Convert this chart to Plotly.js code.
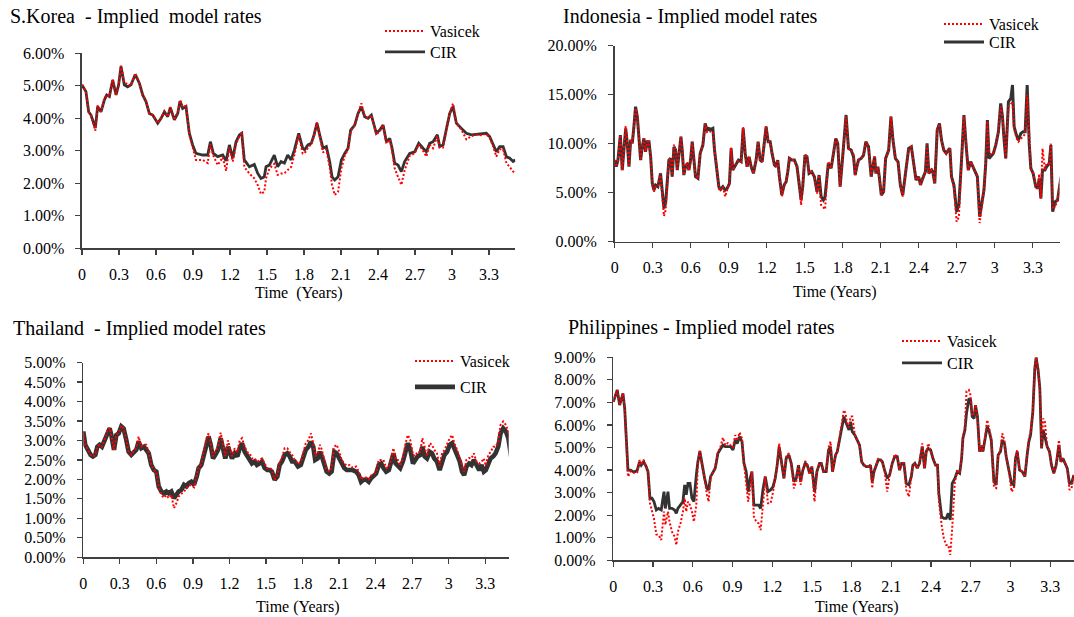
<!DOCTYPE html>
<html>
<head>
<meta charset="utf-8">
<script src="https://cdn.plot.ly/plotly-3.0.1.min.js"></script>
<style>html,body{margin:0;padding:0;background:#fff;}#chart{width:1074px;height:617px;}</style>
</head>
<body>
<div id="chart"></div>
<script>
// ---------- tick labels ----------
const xTickVals = [0, 0.3, 0.6, 0.9, 1.2, 1.5, 1.8, 2.1, 2.4, 2.7, 3, 3.3];
const xTickText = ['0', '0.3', '0.6', '0.9', '1.2', '1.5', '1.8', '2.1', '2.4', '2.7', '3', '3.3'];

// ---------- S.Korea (rates in %) ----------
const krTime = [0,0.032,0.054,0.073,0.108,0.127,0.154,0.181,0.2,0.222,
0.249,0.276,0.297,0.316,0.343,0.37,0.397,0.432,0.465,0.492,
0.519,0.546,0.573,0.614,0.641,0.668,0.695,0.716,0.749,0.776,
0.795,0.816,0.843,0.87,0.897,0.924,0.978,1.019,1.041,1.065,
1.1,1.141,1.168,1.195,1.222,1.249,1.276,1.295,1.316,1.357,
1.397,1.424,1.451,1.478,1.492,1.519,1.559,1.586,1.614,1.641,
1.668,1.695,1.722,1.757,1.789,1.805,1.832,1.859,1.881,1.905,
1.927,1.954,1.981,2.008,2.027,2.049,2.076,2.103,2.13,2.157,
2.178,2.211,2.238,2.265,2.292,2.319,2.346,2.386,2.414,2.441,
2.468,2.495,2.514,2.535,2.562,2.589,2.616,2.657,2.697,2.73,
2.765,2.792,2.819,2.846,2.881,2.9,2.927,2.954,2.981,3.008,
3.035,3.076,3.116,3.157,3.197,3.238,3.278,3.305,3.332,3.359,
3.386,3.414,3.441,3.468,3.495,3.514];
const krCIR = [5.03,4.82,4.2,4.1,3.7,4.36,4.2,4.56,4.72,4.67,
5.18,4.72,5.03,5.6,5.03,4.97,5.03,5.35,5.08,4.72,
4.51,4.15,4.1,3.85,4.0,4.2,4.05,4.33,3.95,4.15,
4.53,4.3,4.36,3.54,3.18,2.92,2.87,2.87,3.28,2.92,
2.82,2.87,2.69,3.18,2.77,3.28,3.49,3.54,2.72,2.51,
2.58,2.31,2.15,2.2,2.51,2.56,2.87,2.51,2.67,2.62,
2.87,2.72,3.03,3.54,3.08,3.03,3.18,3.23,3.49,3.85,
3.49,3.08,3.13,2.67,2.2,2.1,2.2,2.72,2.92,3.08,
3.64,3.79,4.15,4.36,4.05,4.0,4.1,3.54,3.64,3.79,
3.28,3.38,3.08,2.62,2.56,2.36,2.67,2.92,2.97,3.23,
3.08,2.97,3.23,3.28,3.49,3.13,3.18,3.64,4.15,4.36,
3.85,3.69,3.54,3.49,3.51,3.51,3.54,3.44,3.23,2.97,
3.13,3.13,2.82,2.77,2.67,2.72];
const krVasicek = [5.03,4.82,4.2,4.1,3.62,4.4,4.2,4.6,4.72,4.67,
5.2,4.72,5.0,5.62,5.1,5.05,5.0,5.38,5.08,4.72,
4.55,4.15,4.1,3.85,4.0,4.22,4.05,4.35,3.95,4.2,
4.55,4.35,4.38,3.5,3.1,2.72,2.72,2.62,3.2,2.85,
2.56,2.8,2.38,3.1,2.67,3.2,3.45,3.58,2.5,2.3,
2.15,1.95,1.67,1.74,2.15,2.45,2.6,2.26,2.3,2.31,
2.41,2.5,2.87,3.5,2.92,2.92,3.1,3.2,3.45,3.88,
3.45,2.95,3.05,2.5,1.95,1.64,1.74,2.46,2.85,3.05,
3.6,3.79,4.15,4.46,4.05,4.0,4.1,3.5,3.6,3.8,
3.22,3.35,3.0,2.46,2.2,1.95,2.4,2.85,2.92,3.2,
3.0,2.82,3.2,3.08,3.45,3.1,3.1,3.64,4.15,4.46,
3.85,3.65,3.35,3.45,3.5,3.48,3.52,3.4,3.15,2.82,
3.05,3.05,2.62,2.5,2.36,2.31];

// ---------- Indonesia ----------
const idTime = [0,0.013,0.026,0.045,0.06,0.074,0.087,0.1,0.113,0.126,
0.139,0.152,0.165,0.179,0.192,0.205,0.218,0.231,0.244,0.257,
0.271,0.284,0.297,0.31,0.323,0.341,0.362,0.373,0.389,0.402,
0.415,0.428,0.441,0.454,0.468,0.481,0.494,0.507,0.523,0.533,
0.546,0.559,0.573,0.586,0.599,0.612,0.625,0.638,0.657,0.675,
0.696,0.714,0.73,0.743,0.762,0.775,0.788,0.806,0.822,0.835,
0.854,0.872,0.888,0.906,0.919,0.932,0.946,0.964,0.977,0.998,
1.014,1.03,1.045,1.061,1.077,1.095,1.116,1.132,1.148,1.164,
1.182,1.195,1.211,1.227,1.242,1.261,1.274,1.287,1.3,1.319,
1.337,1.353,1.366,1.379,1.397,1.418,1.439,1.458,1.471,1.484,
1.502,1.518,1.534,1.555,1.576,1.597,1.613,1.629,1.647,1.66,
1.686,1.708,1.726,1.745,1.76,1.779,1.797,1.813,1.826,1.845,
1.866,1.885,1.898,1.911,1.924,1.945,1.964,1.982,2.003,2.024,
2.038,2.051,2.061,2.077,2.088,2.104,2.122,2.138,2.162,2.18,
2.196,2.215,2.236,2.254,2.273,2.289,2.302,2.32,2.341,2.36,
2.378,2.399,2.413,2.431,2.452,2.465,2.479,2.5,2.51,2.526,
2.545,2.563,2.579,2.597,2.616,2.632,2.645,2.658,2.677,2.698,
2.716,2.737,2.756,2.774,2.79,2.809,2.827,2.843,2.862,2.88,
2.896,2.914,2.928,2.941,2.954,2.972,2.988,3.007,3.028,3.046,
3.06,3.073,3.086,3.107,3.126,3.139,3.152,3.17,3.186,3.205,
3.223,3.239,3.255,3.271,3.284,3.302,3.323,3.339,3.35,3.363,
3.376,3.395,3.408,3.429,3.442,3.456,3.477,3.495,3.508,3.522];
const idCIR = [8.33,7.65,8.33,10.88,7.31,9.35,11.56,10.03,7.65,10.37,
10.03,11.73,13.78,12.76,10.03,8.33,9.69,10.54,9.18,10.2,
10.2,8.67,5.95,5.27,5.78,5.61,6.97,5.27,3.4,3.91,
6.29,8.33,8.5,6.63,9.69,9.35,7.31,9.01,10.71,9.35,
6.8,7.65,7.99,7.31,8.33,10.2,8.67,6.63,6.46,9.01,
9.86,12.07,11.39,11.56,11.46,11.56,9.35,7.65,5.61,5.34,
5.61,5.27,5.44,5.95,9.52,7.31,7.65,8.16,8.33,8.16,
11.56,9.01,7.65,8.67,7.65,6.97,8.33,10.2,8.33,8.16,
10.37,11.73,10.2,10.2,9.01,7.82,7.65,8.33,6.63,4.76,
5.78,6.12,7.14,8.5,8.33,8.33,7.65,5.95,4.25,5.61,
8.84,8.67,6.97,7.14,6.63,5.1,6.8,4.59,4.25,4.59,
7.99,7.48,9.01,10.54,10.03,5.61,8.33,10.71,12.93,9.52,
9.35,8.67,6.8,7.65,8.33,8.5,8.84,10.2,9.69,6.63,
7.82,8.67,6.97,7.65,6.63,4.76,5.1,8.5,9.35,12.76,
10.37,8.5,8.16,5.78,4.76,6.29,7.82,9.52,9.69,7.99,
6.29,6.63,5.78,6.46,7.14,10.03,6.97,7.31,7.14,5.95,
11.39,12.07,10.37,9.35,9.01,9.35,9.52,6.63,5.78,3.06,
3.74,8.33,12.93,9.69,7.31,8.16,7.65,7.14,6.63,2.55,
3.91,5.27,7.99,12.41,8.5,8.84,9.01,9.86,11.22,14.12,
12.76,10.37,8.5,14.29,14.63,15.99,11.73,10.88,10.37,11.05,
11.22,11.22,15.99,10.03,7.48,6.97,5.61,5.44,6.46,4.42,
7.31,7.31,7.65,7.99,9.86,3.06,4.08,4.25,5.61,6.63];
const idVasicek = [8.33,7.65,8.33,10.88,7.31,9.35,11.8,10.03,7.65,10.5,
10.03,11.73,13.6,12.76,10.03,8.33,9.69,10.54,9.18,10.2,
10.2,8.67,5.95,5.1,5.6,5.61,6.97,5.27,2.62,3.2,
6.29,8.33,8.5,6.63,9.9,9.35,7.31,9.01,10.71,9.35,
6.8,7.65,8.1,7.31,8.33,10.2,8.67,6.63,6.46,9.01,
9.86,12.0,11.2,11.3,11.2,11.2,9.35,7.65,5.4,5.2,
5.61,4.6,5.3,5.95,9.6,7.31,7.65,8.16,8.33,8.16,
11.7,9.01,7.65,8.67,7.65,6.97,8.33,10.2,8.33,8.16,
10.37,11.8,10.2,10.2,9.01,7.82,7.65,8.33,6.63,4.6,
5.78,6.12,7.14,8.6,8.33,8.33,7.65,5.95,3.74,5.61,
8.9,8.67,6.97,7.14,6.63,4.9,6.8,3.74,3.5,3.3,
8.2,7.48,9.01,10.54,10.03,5.61,8.33,10.71,12.8,9.52,
9.35,8.9,6.8,7.65,8.33,8.5,8.84,10.2,9.69,6.63,
7.82,8.8,6.97,7.65,6.63,4.76,5.1,8.5,9.35,12.76,
10.37,8.5,8.16,5.78,4.6,6.29,7.82,9.52,9.69,7.99,
6.29,6.63,5.78,6.46,7.14,9.9,6.97,7.5,7.14,5.95,
11.6,12.0,10.37,9.35,9.01,9.35,9.52,6.63,5.5,2.04,
2.5,8.33,12.8,9.9,7.31,8.16,7.65,7.14,6.63,1.9,
3.5,5.27,7.99,12.3,9.1,8.84,9.01,9.86,11.22,13.8,
12.76,10.37,8.5,13.8,14.0,14.3,11.5,10.6,10.2,10.5,
10.8,11.0,15.0,9.9,7.48,6.97,5.61,5.44,6.9,4.4,
9.5,7.31,8.0,7.99,10.0,3.3,3.6,4.25,5.61,6.63];

// ---------- Thailand ----------
const thTime = [0,0.016,0.038,0.06,0.079,0.099,0.115,0.134,0.153,0.175,
0.197,0.216,0.23,0.252,0.271,0.29,0.312,0.331,0.353,0.372,
0.394,0.416,0.435,0.454,0.476,0.498,0.517,0.537,0.558,0.58,
0.6,0.619,0.641,0.662,0.682,0.701,0.723,0.745,0.764,0.783,
0.805,0.827,0.846,0.865,0.887,0.909,0.931,0.947,0.969,0.988,
1.01,1.029,1.046,1.065,1.084,1.106,1.128,1.147,1.166,1.188,
1.207,1.221,1.243,1.265,1.284,1.303,1.325,1.347,1.366,1.385,
1.407,1.426,1.448,1.467,1.489,1.511,1.53,1.549,1.571,1.593,
1.612,1.632,1.653,1.675,1.695,1.714,1.736,1.763,1.786,1.805,
1.827,1.849,1.869,1.888,1.904,1.924,1.943,1.959,1.979,1.998,
2.02,2.039,2.061,2.08,2.102,2.121,2.143,2.163,2.185,2.212,
2.24,2.262,2.281,2.3,2.322,2.344,2.363,2.382,2.404,2.426,
2.446,2.465,2.487,2.509,2.528,2.547,2.564,2.583,2.602,2.624,
2.646,2.665,2.685,2.707,2.726,2.745,2.767,2.784,2.803,2.822,
2.844,2.863,2.882,2.904,2.926,2.946,2.965,2.987,3.009,3.028,
3.047,3.069,3.091,3.11,3.127,3.146,3.168,3.187,3.207,3.229,
3.251,3.27,3.289,3.305,3.325,3.344,3.366,3.385,3.407,3.426,
3.448,3.47,3.49,3.509,3.515];
const thCIR = [3.23,2.89,2.76,2.63,2.59,2.63,2.84,2.89,2.84,3.01,
3.23,3.31,3.14,2.76,3.14,3.18,3.36,3.31,3.01,2.71,
2.63,2.71,2.76,2.97,2.8,2.84,2.76,2.67,2.37,2.24,
2.2,1.82,1.69,1.64,1.69,1.64,1.69,1.52,1.6,1.69,
1.73,1.86,1.82,1.9,1.94,1.86,2.07,2.29,2.37,2.63,
2.93,3.1,2.89,2.54,2.63,2.76,3.06,2.76,2.54,2.84,
2.63,2.54,2.67,2.59,2.8,2.93,2.71,2.59,2.46,2.41,
2.46,2.37,2.41,2.46,2.29,2.24,2.24,2.2,1.99,2.07,
2.37,2.46,2.63,2.67,2.59,2.46,2.46,2.33,2.37,2.59,
2.76,2.84,2.97,2.84,2.5,2.54,2.71,2.59,2.41,2.2,
2.15,2.2,2.71,2.67,2.54,2.41,2.29,2.24,2.24,2.24,
2.2,2.11,1.94,1.99,2.0,1.94,2.03,2.07,2.15,2.37,
2.41,2.29,2.2,2.24,2.46,2.67,2.41,2.33,2.29,2.46,
2.76,2.93,2.76,2.41,2.5,2.59,2.63,2.84,2.59,2.54,
2.71,2.67,2.54,2.46,2.24,2.5,2.63,2.71,2.89,2.93,
2.76,2.63,2.46,2.2,2.11,2.33,2.41,2.37,2.5,2.37,
2.24,2.37,2.2,2.24,2.37,2.54,2.59,2.67,2.84,3.18,
3.31,3.23,3.06,2.67,2.55];
const thVasicek = [3.23,2.89,2.76,2.63,2.59,2.63,2.84,2.89,2.84,3.01,
3.25,3.33,3.14,2.76,3.14,3.2,3.38,3.31,3.01,2.71,
2.63,2.75,2.8,3.1,2.85,2.89,2.89,2.7,2.37,2.24,
2.2,1.8,1.6,1.53,1.6,1.52,1.6,1.26,1.39,1.56,
1.63,1.7,1.75,1.85,1.85,1.8,2.05,2.3,2.4,2.7,
3.05,3.18,2.95,2.6,2.7,2.85,3.2,2.85,2.6,3.0,
2.75,2.6,2.8,2.7,3.0,3.06,2.84,2.7,2.67,2.54,
2.54,2.45,2.5,2.54,2.41,2.29,2.3,2.25,2.0,2.1,
2.45,2.55,2.8,2.8,2.7,2.63,2.5,2.4,2.45,2.7,
2.93,3.01,3.18,2.93,2.6,2.65,2.89,2.76,2.5,2.25,
2.2,2.3,2.84,2.89,2.71,2.5,2.41,2.35,2.37,2.3,
2.33,2.2,2.0,2.05,2.05,2.0,2.1,2.12,2.2,2.5,
2.5,2.5,2.3,2.3,2.55,2.8,2.5,2.5,2.35,2.55,
2.93,3.14,3.01,2.63,2.6,2.71,2.7,3.06,2.84,2.6,
2.93,2.89,2.76,2.67,2.35,2.67,2.75,2.93,3.06,3.14,
2.93,2.76,2.55,2.37,2.2,2.5,2.55,2.54,2.67,2.45,
2.41,2.45,2.54,2.35,2.63,2.7,2.84,2.84,2.97,3.4,
3.49,3.4,3.23,2.93,2.7];

// ---------- Philippines ----------
const phTime = [0,0.015,0.03,0.048,0.06,0.073,0.086,0.098,0.111,0.131,
0.149,0.166,0.181,0.199,0.211,0.229,0.249,0.262,0.277,0.292,
0.307,0.325,0.342,0.362,0.383,0.393,0.413,0.425,0.443,0.463,
0.476,0.488,0.508,0.526,0.539,0.551,0.564,0.579,0.594,0.609,
0.627,0.639,0.654,0.67,0.69,0.707,0.72,0.735,0.753,0.77,
0.79,0.808,0.828,0.846,0.866,0.886,0.904,0.921,0.936,0.954,
0.972,0.987,1.004,1.019,1.034,1.047,1.062,1.08,1.097,1.113,
1.13,1.148,1.168,1.188,1.206,1.223,1.238,1.253,1.269,1.289,
1.306,1.326,1.344,1.364,1.382,1.399,1.415,1.432,1.45,1.465,
1.483,1.5,1.52,1.538,1.558,1.571,1.588,1.608,1.626,1.641,
1.656,1.679,1.692,1.709,1.724,1.742,1.755,1.767,1.78,1.792,
1.805,1.825,1.843,1.86,1.876,1.893,1.911,1.931,1.943,1.956,
1.969,1.986,2.001,2.019,2.032,2.049,2.069,2.087,2.107,2.125,
2.145,2.162,2.178,2.195,2.213,2.233,2.251,2.263,2.278,2.296,
2.313,2.334,2.351,2.364,2.379,2.397,2.414,2.434,2.449,2.459,
2.48,2.497,2.515,2.53,2.545,2.56,2.58,2.598,2.616,2.631,
2.641,2.656,2.668,2.686,2.699,2.711,2.726,2.736,2.751,2.767,
2.782,2.792,2.807,2.824,2.837,2.855,2.875,2.892,2.907,2.925,
2.938,2.955,2.968,2.988,3.008,3.026,3.038,3.051,3.069,3.089,
3.109,3.126,3.139,3.152,3.169,3.184,3.194,3.209,3.222,3.235,
3.247,3.26,3.277,3.295,3.31,3.328,3.345,3.366,3.381,3.396,
3.411,3.429,3.446,3.461,3.479];
const phCIR = [7.03,7.25,7.55,6.88,7.1,7.4,6.74,5.26,4.0,4.0,
3.93,3.93,4.0,4.37,4.22,4.37,4.15,3.93,2.75,2.75,
2.6,2.23,2.3,2.23,3.04,2.3,3.04,2.3,2.3,2.23,
2.08,2.3,2.45,2.6,3.34,2.9,3.41,3.41,2.75,2.6,
3.78,4.37,4.82,4.22,3.63,3.19,3.12,3.71,3.93,4.08,
4.74,4.89,5.11,5.04,5.04,5.04,4.89,5.33,5.18,5.48,
5.26,4.3,3.93,3.04,3.63,3.93,2.45,2.45,2.45,2.3,
3.12,3.71,3.04,3.12,3.26,3.63,4.22,5.04,4.37,3.63,
4.52,4.67,4.3,3.49,3.63,4.22,3.49,4.0,4.3,4.22,
3.86,4.15,3.04,3.93,4.3,4.3,3.93,3.93,4.89,5.04,
3.93,4.67,4.82,5.33,5.7,6.37,6.14,6.0,5.78,6.14,
5.7,5.55,5.33,5.11,4.37,4.22,4.15,4.15,4.22,3.49,
3.93,4.22,4.45,4.45,4.37,4.0,3.63,3.78,4.3,4.59,
4.59,4.0,4.3,4.3,3.41,3.34,3.71,4.22,4.3,4.08,
4.3,5.04,4.08,4.82,4.96,4.89,4.52,4.22,4.22,2.97,
1.94,1.86,1.86,2.08,1.79,3.41,3.63,3.93,3.86,4.52,
5.41,5.78,6.51,7.18,7.1,6.37,6.29,6.88,6.37,4.82,
5.04,4.82,5.41,5.92,5.78,5.33,3.49,3.34,4.67,4.82,
5.33,5.18,4.59,4.0,3.41,3.34,4.52,4.82,4.0,3.93,
3.71,4.67,5.26,5.55,6.59,8.51,9.0,8.43,7.62,4.96,
5.78,5.48,5.04,4.82,4.22,3.86,4.22,5.11,4.37,4.52,
4.3,4.08,3.41,3.41,3.78];
const phVasicek = [7.03,7.25,7.55,6.88,7.1,7.4,6.74,5.26,3.71,3.95,
3.9,3.85,3.9,4.45,4.22,4.45,4.15,3.93,2.53,2.16,
1.86,1.15,1.12,0.9,2.16,1.57,2.16,1.71,1.27,1.05,
0.68,1.27,1.64,2.16,2.75,2.16,2.6,2.45,2.16,1.71,
2.45,4.37,4.9,4.22,3.63,2.9,2.6,3.71,3.93,4.08,
4.8,5.0,5.44,5.1,5.2,5.1,5.0,5.55,5.3,5.67,
5.4,4.3,3.5,2.6,3.19,3.93,1.93,1.71,1.64,1.34,
2.45,3.71,2.53,2.53,3.0,3.63,4.22,5.18,4.37,3.63,
4.6,4.75,4.3,3.19,3.5,4.22,3.35,4.0,4.4,4.22,
3.86,4.15,2.6,3.93,4.3,4.3,3.93,3.93,5.0,5.26,
3.93,4.67,4.82,5.4,6.0,6.66,6.51,6.0,5.9,6.37,
6.37,5.55,5.33,5.11,4.37,4.22,4.15,4.15,4.22,3.19,
3.93,4.22,4.5,4.45,4.37,4.0,3.04,3.78,4.3,4.7,
4.59,4.0,4.3,4.3,3.12,2.82,3.71,4.22,4.3,4.08,
4.3,5.18,4.08,4.82,5.18,4.89,4.52,4.22,4.22,2.67,
1.57,0.97,0.68,0.68,0.24,1.42,3.49,3.93,3.86,4.52,
5.5,5.9,7.5,7.55,7.3,6.4,6.51,6.9,6.37,4.82,
5.1,4.82,5.41,6.22,5.9,5.4,3.26,3.2,4.67,4.9,
5.63,5.3,4.59,4.0,3.04,3.2,4.52,4.9,4.0,3.93,
3.71,4.7,5.4,5.7,6.6,8.5,9.0,8.43,7.62,4.96,
6.29,6.14,5.04,4.82,4.22,3.86,4.22,5.33,4.37,4.52,
4.3,4.08,3.12,3.19,3.78];

// ---------- build ----------
const FONT = 'Liberation Serif, Times New Roman, serif';
const AX = '#404040';
const panels = [
  {t: krTime, cir: krCIR, vas: krVasicek, xa: 'x',  ya: 'y',  lv: 'legend',  lc: 'legend2', w: 2.8},
  {t: idTime, cir: idCIR, vas: idVasicek, xa: 'x2', ya: 'y2', lv: 'legend3', lc: 'legend4', w: 3},
  {t: thTime, cir: thCIR, vas: thVasicek, xa: 'x3', ya: 'y3', lv: 'legend5', lc: 'legend6', w: 4.6},
  {t: phTime, cir: phCIR, vas: phVasicek, xa: 'x4', ya: 'y4', lv: 'legend7', lc: 'legend8', w: 2.8}
];
const traces = [];
panels.forEach((p) => {
  traces.push({x: p.t, y: p.cir, type: 'scatter', mode: 'lines', name: 'CIR',
    xaxis: p.xa, yaxis: p.ya, legend: p.lc,
    line: {color: '#333333', width: p.w}, hoverinfo: 'skip'});
  traces.push({x: p.t, y: p.vas, type: 'scatter', mode: 'lines', name: 'Vasicek',
    xaxis: p.xa, yaxis: p.ya, legend: p.lv,
    line: {color: '#ff0000', width: 2, dash: '2px,2px'}, hoverinfo: 'skip'});
});

function xax(domain, range, anchor) {
  return {domain: domain, range: range, anchor: anchor, showgrid: false, zeroline: false,
    showline: true, linecolor: AX, linewidth: 1.5, ticks: 'outside', ticklen: 5, tickcolor: AX,
    tickwidth: 1.2, tickvals: xTickVals, ticktext: xTickText, ticklabelstandoff: 6,
    tickfont: {family: FONT, size: 16, color: '#000'}, fixedrange: true};
}
function yax(domain, range, dtick, anchor) {
  return {domain: domain, range: range, anchor: anchor, showgrid: false, zeroline: false,
    showline: true, linecolor: AX, linewidth: 1.5, ticks: 'outside', ticklen: 5, tickcolor: AX,
    tickwidth: 1.2, dtick: dtick, tick0: 0, tickformat: '.2f', ticksuffix: '%', ticklabelstandoff: 8,
    tickfont: {family: FONT, size: 16, color: '#000'}, fixedrange: true};
}
// legend placed by pixel: left of symbol area and top of box
function leg(px, pyTop) {
  return {x: px / 1074, y: 1 - pyTop / 617, xanchor: 'left', yanchor: 'top',
    bgcolor: 'rgba(0,0,0,0)', itemwidth: 40,
    font: {family: FONT, size: 16, color: '#000'}};
}
const ann = (text, x, y, size, xanchor) => ({text: text, x: x, y: y, xref: 'paper', yref: 'paper',
  xanchor: xanchor, yanchor: 'middle', showarrow: false, font: {family: FONT, size: size, color: '#000'}});

const layout = {
  width: 1074, height: 617, margin: {l: 0, r: 0, t: 0, b: 0},
  paper_bgcolor: '#fff', plot_bgcolor: '#fff', showlegend: true,
  xaxis:  xax([0.07635, 0.4798], [0, 3.513], 'y'),
  yaxis:  yax([0.5976, 0.9136], [0, 6], 1, 'x'),
  xaxis2: xax([0.5723, 0.9865], [0, 3.51], 'y2'),
  yaxis2: yax([0.6083, 0.9259], [0, 20], 5, 'x2'),
  xaxis3: xax([0.07756, 0.47365], [0, 3.493], 'y3'),
  yaxis3: yax([0.09676, 0.41232], [0, 5], 0.5, 'x3'),
  xaxis4: xax([0.57104, 1.0], [0, 3.48], 'y4'),
  yaxis4: yax([0.0919, 0.42091], [0, 9], 1, 'x4'),
  legend:  leg(380, 14),
  legend2: leg(380, 35),
  legend3: leg(939, 7),
  legend4: leg(939, 25),
  legend5: leg(410, 344),
  legend6: leg(410, 370),
  legend7: leg(897, 324),
  legend8: leg(897, 346),
  annotations: [
    ann('S.Korea\u00a0\u00a0- Implied\u00a0\u00a0model rates', 0.0074, 0.974, 20, 'left'),
    ann('Indonesia - Implied model rates', 0.5223, 0.974, 20, 'left'),
    ann('Thailand\u00a0\u00a0- Implied model rates', 0.0105, 0.4668, 20, 'left'),
    ann('Philippines - Implied model rates', 0.527, 0.47, 20, 'left'),
    ann('Time\u00a0\u00a0(Years)', 0.2780, 1 - 293/617, 16, 'center'),
    ann('Time (Years)', 0.7775, 1 - 292/617, 16, 'center'),
    ann('Time (Years)', 0.2772, 1 - 607/617, 16, 'center'),
    ann('Time (Years)', 0.7980, 1 - 607/617, 16, 'center')
  ]
};
Plotly.newPlot('chart', traces, layout, {staticPlot: true, displayModeBar: false});
</script>
</body>
</html>
